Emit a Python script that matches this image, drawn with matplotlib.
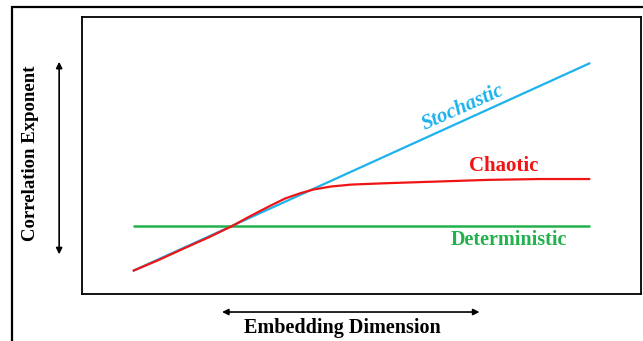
import matplotlib
matplotlib.use("Agg")
import matplotlib.pyplot as plt
from matplotlib.patches import Rectangle, FancyArrowPatch

# embedding dimension (arbitrary units) and correlation exponent readings
stoch_x = [1, 10]
stoch_y = [0.83, 8.34]

chaos_x = [1, 1.5, 2, 2.5, 2.95, 3.3, 3.7, 4.0, 4.3, 4.55, 4.9, 5.3, 6, 7, 8, 9, 10]
chaos_y = [0.83, 1.22, 1.64, 2.05, 2.45, 2.80, 3.18, 3.45, 3.64, 3.77, 3.88, 3.95,
           4.00, 4.06, 4.12, 4.15, 4.15]

det_x = [1, 10]
det_y = [2.45, 2.45]

c_stoch = "#1cb2ec"
c_chaos = "#f01414"
c_det = "#22b14c"
serif = "Liberation Serif"

fig = plt.figure(figsize=(6.43, 3.41), dpi=100)
ax = fig.add_axes([0.1275, 0.138, 0.8695, 0.812])

ax.plot(stoch_x, stoch_y, color=c_stoch, lw=1.6, solid_capstyle="butt")
ax.plot(det_x, det_y, color=c_det, lw=1.8, solid_capstyle="butt")
ax.plot(chaos_x, chaos_y, color=c_chaos, lw=1.6, solid_capstyle="butt")

ax.text(7.5, 6.75, "Stochastic", color=c_stoch, fontsize=15, fontweight="bold",
        style="italic", family=serif, rotation=24, ha="center", va="center")
ax.text(8.29, 4.62, "Chaotic", color=c_chaos, fontsize=15, fontweight="bold",
        family=serif, ha="center", va="center")
ax.text(8.39, 1.95, "Deterministic", color=c_det, fontsize=14.5, fontweight="bold",
        family=serif, ha="center", va="center")

ax.set_xlim(0, 11)
ax.set_ylim(0, 10)
ax.set_xticks([])
ax.set_yticks([])
for s in ax.spines.values():
    s.set_linewidth(1.3)

# outer frame
fig.patches.append(Rectangle((0.019, -0.1), 1.2, 1.08, transform=fig.transFigure,
                             fill=False, lw=1.6, ec="black"))

# axis arrows and labels
fig.add_artist(FancyArrowPatch((0.092, 0.246), (0.092, 0.827), transform=fig.transFigure,
                               arrowstyle="<|-|>", mutation_scale=9, lw=1.2, color="black"))
fig.add_artist(FancyArrowPatch((0.341, 0.085), (0.75, 0.085), transform=fig.transFigure,
                               arrowstyle="<|-|>", mutation_scale=9, lw=1.2, color="black"))

fig.text(0.047, 0.551, "Correlation Exponent", rotation=90, fontsize=13.5,
         fontweight="bold", family=serif, ha="center", va="center")
fig.text(0.533, 0.038, "Embedding Dimension", fontsize=14.5,
         fontweight="bold", family=serif, ha="center", va="center")

fig.savefig("out.png", dpi=100)
